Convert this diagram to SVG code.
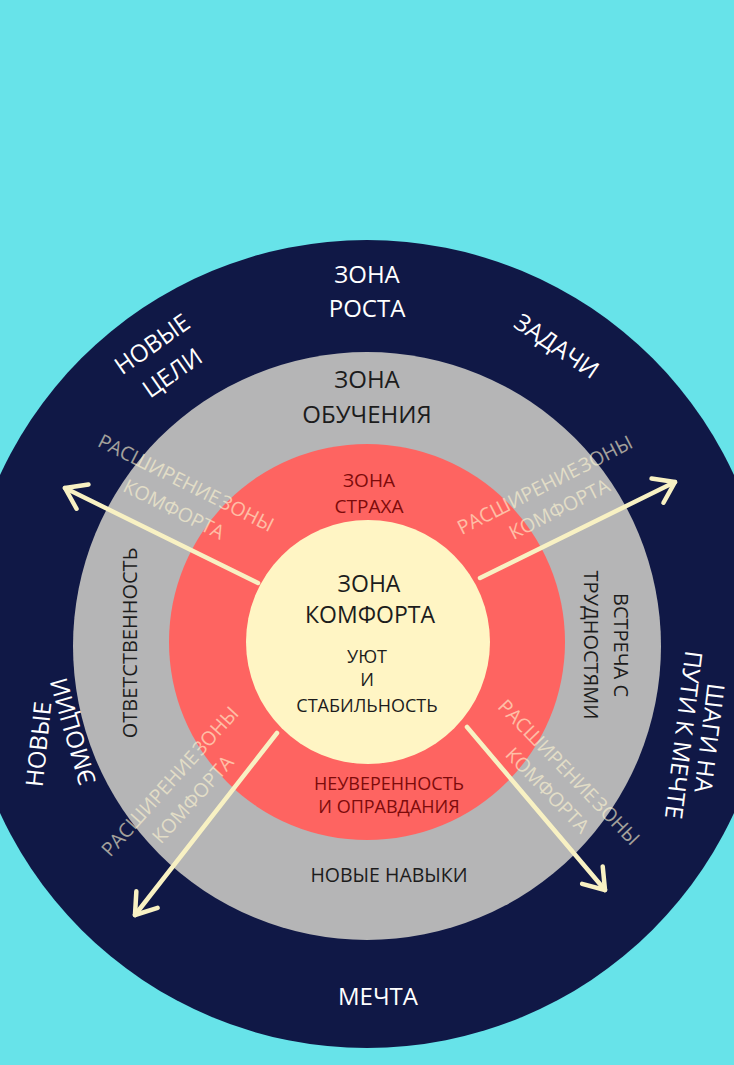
<svg xmlns="http://www.w3.org/2000/svg" width="734" height="1065" viewBox="0 0 734 1065">
<style>
text{font-family:"Open Sans","DejaVu Sans",sans-serif;text-anchor:middle}
.w{fill:#FFFFFF;font-size:24px}
.d{fill:#1C1C1C}
.r{fill:#7D0B0B}
.lbl{fill:#FFF6D2;opacity:0.62;font-size:19.5px;word-spacing:-3px}
.arr{fill:none;stroke:#F8F1C3;stroke-width:4.5;stroke-linecap:round}
</style>
<defs>
<marker id="chev" markerUnits="userSpaceOnUse" orient="auto" overflow="visible" refX="0" refY="0" markerWidth="1" markerHeight="1">
<path d="M-19.5,-13.5 L0,0 L-19.5,13.5" fill="none" stroke="#F8F1C3" stroke-width="4.5" stroke-linecap="round" stroke-linejoin="round"/>
</marker>
</defs>
<rect width="734" height="1065" fill="#67E3E9"/>
<g id="zone-growth">
<circle cx="367" cy="644" r="404" fill="#101846"/>
</g>
<g id="zone-learning">
<circle cx="367" cy="646" r="294" fill="#B5B5B6"/>
</g>
<g id="zone-fear">
<circle cx="367" cy="642" r="198" fill="#FE6461"/>
</g>
<g id="zone-comfort">
<circle cx="368" cy="642" r="122" fill="#FFF5C4"/>
</g>
<g id="connectors">
<path class="arr" d="M258,583 L65,488" marker-end="url(#chev)"/>
<path class="arr" d="M480,578 L675,482" marker-end="url(#chev)"/>
<path class="arr" d="M277,733 L135,915" marker-end="url(#chev)"/>
<path class="arr" d="M467,727 L605,890" marker-end="url(#chev)"/>
</g>
<g id="labels-growth">
<text class="w" x="367" y="283">ЗОНА</text>
<text class="w" x="367" y="317">РОСТА</text>
<g transform="translate(157,351) rotate(-35)"><text class="w" x="0" y="0">НОВЫЕ</text><text class="w" x="0" y="35">ЦЕЛИ</text></g>
<text class="w" transform="translate(552,353) rotate(34)">ЗАДАЧИ</text>
<text class="w" transform="translate(47,745) rotate(-84)">НОВЫЕ</text>
<text class="w" transform="translate(81,729) rotate(-106)">ЭМОЦИИ</text>
<g transform="translate(701,737) rotate(97)"><text class="w" x="0" y="0" font-size="23">ШАГИ НА</text><text class="w" x="0" y="26">ПУТИ К МЕЧТЕ</text></g>
<text class="w" x="378" y="1005">МЕЧТА</text>
</g>
<g id="labels-learning">
<text class="d" x="367" y="388" font-size="24">ЗОНА</text>
<text class="d" x="367" y="423" font-size="24">ОБУЧЕНИЯ</text>
<text class="d" font-size="20" transform="translate(137,643) rotate(-90)">ОТВЕТСТВЕННОСТЬ</text>
<g transform="translate(614,645) rotate(90)"><text class="d" font-size="20" x="0" y="0">ВСТРЕЧА С</text><text class="d" font-size="20" x="0" y="30">ТРУДНОСТЯМИ</text></g>
<text class="d" x="389" y="882" font-size="19.5">НОВЫЕ НАВЫКИ</text>
</g>
<g id="labels-fear">
<text class="r" x="369" y="487" font-size="19">ЗОНА</text>
<text class="r" x="369" y="513" font-size="19">СТРАХА</text>
<text class="r" x="389" y="790" font-size="18">НЕУВЕРЕННОСТЬ</text>
<text class="r" x="389" y="813" font-size="18">И ОПРАВДАНИЯ</text>
</g>
<g id="labels-comfort">
<text class="d" x="369" y="592" font-size="23">ЗОНА</text>
<text class="d" x="370" y="623" font-size="23">КОМФОРТА</text>
<text class="d" x="367" y="663" font-size="18">УЮТ</text>
<text class="d" x="367" y="686" font-size="18">И</text>
<text class="d" x="367" y="712" font-size="18">СТАБИЛЬНОСТЬ</text>
</g>
<g id="labels-expansion">
<g transform="translate(183,489) rotate(26.6)"><text class="lbl" x="0" y="0">РАСШИРЕНИЕ ЗОНЫ</text><text class="lbl" x="1" y="29">КОМФОРТА</text></g>
<g transform="translate(548,491) rotate(-27)"><text class="lbl" x="0" y="0">РАСШИРЕНИЕ ЗОНЫ</text><text class="lbl" x="2" y="28">КОМФОРТА</text></g>
<g transform="translate(175,786) rotate(-48)"><text class="lbl" x="0" y="0">РАСШИРЕНИЕ ЗОНЫ</text><text class="lbl" x="2" y="29">КОМФОРТА</text></g>
<g transform="translate(564,777) rotate(46)"><text class="lbl" x="0" y="0">РАСШИРЕНИЕ ЗОНЫ</text><text class="lbl" x="-2" y="28">КОМФОРТА</text></g>
</g>
</svg>
